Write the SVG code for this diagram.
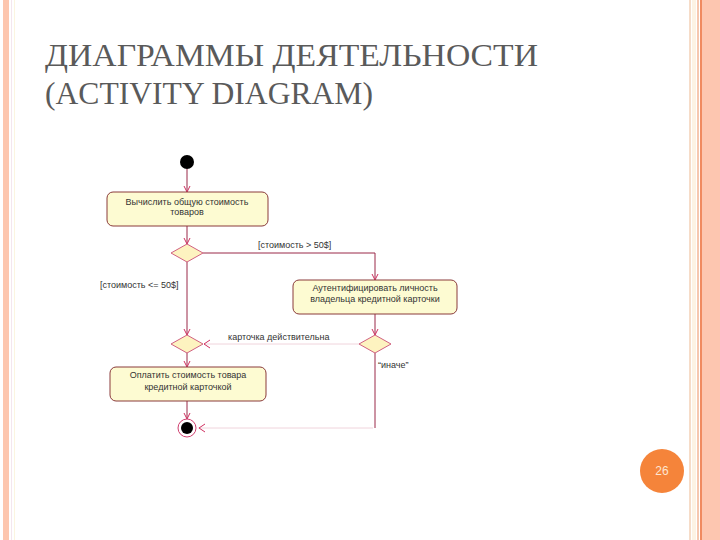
<svg xmlns="http://www.w3.org/2000/svg" width="720" height="540" viewBox="0 0 720 540">
<defs>
<style>
.act{fill:#fdfbd2;stroke:#8a3a3a;stroke-width:1}
.dec{fill:#fdf3c0;stroke:#d06080;stroke-width:1}
.ln{fill:none;stroke:#9a2848;stroke-width:1}
.lf{fill:none;stroke:#f0d4dc;stroke-width:1}
.t{font-family:"Liberation Sans",Arial,sans-serif;font-size:9px;fill:#333}
.hd{font-family:'Liberation Serif','Times New Roman','DejaVu Serif',serif;font-size:32px;fill:#5a5a5a}
</style>
<marker id="arr" viewBox="0 0 8 8" markerWidth="8" markerHeight="8" refX="7" refY="4" orient="auto" markerUnits="userSpaceOnUse">
<path d="M1,1 L7,4 L1,7" fill="none" stroke="#d03060" stroke-width="1"/>
</marker>
</defs>
<rect width="720" height="540" fill="#ffffff"/>
<!-- left band -->
<rect x="3" y="0" width="6" height="540" fill="#fdc6ae"/>
<rect x="11" y="0" width="1" height="540" fill="#f4e6ee"/>
<rect x="14" y="0" width="1" height="540" fill="#fbf5e0"/>
<!-- right band -->
<rect x="689" y="0" width="2" height="540" fill="#f6dcc8"/>
<rect x="692" y="0" width="4" height="540" fill="#fdf3e4"/>
<rect x="697" y="0" width="2" height="540" fill="#f6c8b0"/>
<rect x="700" y="0" width="2" height="540" fill="#f08a60"/>
<rect x="702" y="0" width="18" height="540" fill="#fdc6b0"/>
<!-- title -->
<text class="hd" x="45" y="66" textLength="493" lengthAdjust="spacingAndGlyphs">ДИАГРАММЫ ДЕЯТЕЛЬНОСТИ</text>
<text class="hd" x="45" y="104" textLength="328" lengthAdjust="spacingAndGlyphs">(ACTIVITY DIAGRAM)</text>
<!-- connectors -->
<g id="connectors">
<line class="ln" x1="187" y1="169" x2="187" y2="192" marker-end="url(#arr)"/>
<line class="ln" x1="187" y1="226" x2="187" y2="244" marker-end="url(#arr)"/>
<polyline class="ln" points="203,253 375,253 375,280" marker-end="url(#arr)"/>
<line class="ln" x1="187" y1="262" x2="187" y2="335" marker-end="url(#arr)"/>
<line class="ln" x1="375" y1="314" x2="375" y2="335" marker-end="url(#arr)"/>
<line class="lf" x1="360" y1="344" x2="204" y2="344"/>
<path d="M210,340 L204,344 L210,348" fill="none" stroke="#d03060"/>
<line class="ln" x1="187" y1="353" x2="187" y2="367" marker-end="url(#arr)"/>
<line class="ln" x1="187" y1="401" x2="187" y2="419" marker-end="url(#arr)"/>
<line class="ln" x1="375" y1="353" x2="375" y2="428"/>
<line class="lf" x1="373" y1="428" x2="198" y2="428"/>
<path d="M205,424 L199,428 L205,432" fill="none" stroke="#d03060"/>
<text class="t" x="258" y="248">[стоимость &gt; 50$]</text>
<text class="t" x="100" y="288">[стоимость &lt;= 50$]</text>
<text class="t" x="228" y="340">карточка действительна</text>
<text class="t" x="378" y="368">“иначе”</text>
</g>
<!-- nodes -->
<g id="start"><circle cx="187" cy="162" r="7" fill="#000"/></g>
<g id="act1">
<rect class="act" x="107" y="192" width="161" height="34" rx="6"/>
<text class="t" x="187" y="205" text-anchor="middle">Вычислить общую стоимость</text>
<text class="t" x="187" y="215" text-anchor="middle">товаров</text>
</g>
<g id="dec1"><polygon class="dec" points="187,244 203,253 187,262 171,253"/></g>
<g id="act2">
<rect class="act" x="293" y="280" width="164" height="34" rx="6"/>
<text class="t" x="375" y="291" text-anchor="middle">Аутентифицировать личность</text>
<text class="t" x="375" y="302" text-anchor="middle">владельца кредитной карточки</text>
</g>
<g id="dec2"><polygon class="dec" points="187,335 203,344 187,353 171,344"/></g>
<g id="dec3"><polygon class="dec" points="375,335 391,344 375,353 359,344"/></g>
<g id="act3">
<rect class="act" x="110" y="367" width="156" height="34" rx="6"/>
<text class="t" x="188" y="378" text-anchor="middle">Оплатить стоимость товара</text>
<text class="t" x="188" y="390" text-anchor="middle">кредитной карточкой</text>
</g>
<g id="end">
<circle cx="187" cy="428" r="9" fill="#fff" stroke="#d04070" stroke-width="1"/>
<circle cx="187" cy="428" r="6" fill="#000"/>
</g>
<g id="page">
<circle cx="662" cy="471" r="22" fill="#f5843a"/>
<text x="662" y="475" text-anchor="middle" style="font-family:'Liberation Sans',Arial,sans-serif;font-size:12px;fill:#fde6d2">26</text>
</g>
</svg>
